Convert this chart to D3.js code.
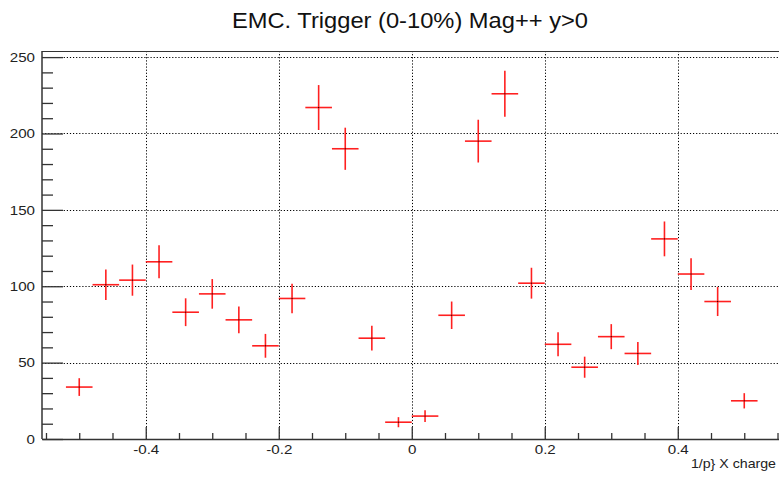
<!DOCTYPE html>
<html>
<head>
<meta charset="utf-8">
<script src="https://cdn.jsdelivr.net/npm/d3@7"></script>
<style>
  body { margin: 0; background: #fff; }
  svg { display: block; font-family: "Liberation Sans", Arial, sans-serif; }
</style>
</head>
<body>
<div id="chart"></div>
<script>
// bin centres (1/p x charge) and counts with their errors
var binCentres = [-0.50, -0.46, -0.42, -0.38, -0.34, -0.30, -0.26, -0.22, -0.18, -0.14, -0.10, -0.06, -0.02,
  0.02, 0.06, 0.10, 0.14, 0.18, 0.22, 0.26, 0.30, 0.34, 0.38, 0.42, 0.46, 0.50]
var counts = [34, 101, 104, 116, 83, 95, 78, 61, 92, 217, 190, 66, 11,
  15, 81, 195, 226, 102, 62, 47, 67, 56, 131, 108, 90, 25]
var countErrors = [5.8, 10.0, 10.2, 10.8, 9.1, 9.7, 8.8, 7.8, 9.6, 14.7, 13.8, 8.1, 3.3,
  3.9, 9.0, 14.0, 15.0, 10.1, 7.9, 6.9, 8.2, 7.5, 11.4, 10.4, 9.5, 5.0]
var binHalfWidth = 0.02

var xMajorTicks = [-0.4, -0.2, 0, 0.2, 0.4]
var xMinorTicks = [-0.55, -0.5, -0.45, -0.35, -0.3, -0.25, -0.15, -0.1, -0.05,
  0.05, 0.1, 0.15, 0.25, 0.3, 0.35, 0.45, 0.5, 0.55]
var yMajorTicks = [0, 50, 100, 150, 200, 250]
var yMinorTicks = [10, 20, 30, 40, 60, 70, 80, 90, 110, 120, 130, 140, 160, 170, 180, 190, 210, 220, 230, 240]

var chartTitle = 'EMC. Trigger (0-10%) Mag++ y>0'
var xTitle = '1/p} X charge'

var plot = { left: 42, top: 51, right: 781.5, bottom: 439 }

var svg = d3.select('#chart')
  .append('svg')
  .attr('width', 779)
  .attr('height', 479)

var x = d3.scaleLinear().domain([-0.556, 0.556]).range([plot.left, plot.right])
var y = d3.scaleLinear().domain([0, 254]).range([plot.bottom, plot.top])

// the reference text is a bit wider than Liberation Sans, stretch it
function stretch (sel, factor) {
  sel.each(function () {
    var w = this.getComputedTextLength()
    d3.select(this).attr('textLength', w * factor).attr('lengthAdjust', 'spacingAndGlyphs')
  })
}

// grid
var grid = svg.append('g').attr('class', 'grid')
  .attr('stroke', '#000')
  .attr('stroke-width', 1)
  .attr('stroke-dasharray', '1.2,1.9')
grid.selectAll('.gx')
  .data(xMajorTicks)
  .enter()
  .append('line')
  .attr('x1', function (d) { return Math.round(x(d)) + 0.5 })
  .attr('x2', function (d) { return Math.round(x(d)) + 0.5 })
  .attr('y1', plot.top)
  .attr('y2', plot.bottom)
grid.selectAll('.gy')
  .data(yMajorTicks.filter(function (d) { return d > 0 }))
  .enter()
  .append('line')
  .attr('y1', function (d) { return Math.round(y(d)) + 0.5 })
  .attr('y2', function (d) { return Math.round(y(d)) + 0.5 })
  .attr('x1', plot.left)
  .attr('x2', plot.right)

// frame top / right
svg.append('path')
  .attr('d', 'M' + plot.left + ',' + (plot.top + 0.5) + 'H' + plot.right + 'V' + plot.bottom)
  .attr('fill', 'none')
  .attr('stroke', '#333')
  .attr('stroke-width', 1.2)

// axes
function styleAxis (g) {
  g.select('.domain').attr('stroke', '#333').attr('stroke-width', 1.5)
  g.selectAll('.tick line').attr('stroke', '#333').attr('stroke-width', 1.3)
  g.selectAll('text').attr('fill', '#222').attr('font-size', 13.5).call(stretch, 1.12)
}

var xMinor = d3.axisBottom(x).tickValues(xMinorTicks).tickSizeInner(-6).tickSizeOuter(0).tickFormat('')
var xMajor = d3.axisBottom(x).tickValues(xMajorTicks).tickSizeInner(-12).tickSizeOuter(0).tickPadding(5)
  .tickFormat(function (d) { return String(d) })
svg.append('g').attr('transform', 'translate(0,' + plot.bottom + ')').call(xMinor).call(styleAxis)
svg.append('g').attr('transform', 'translate(0,' + plot.bottom + ')').call(xMajor).call(styleAxis)
  .call(function (g) { g.select('.domain').remove() })

var yMinor = d3.axisLeft(y).tickValues(yMinorTicks).tickSizeInner(-11).tickSizeOuter(0).tickFormat('')
var yMajor = d3.axisLeft(y).tickValues(yMajorTicks).tickSizeInner(-21).tickSizeOuter(0).tickPadding(7)
  .tickFormat(function (d) { return String(d) })
svg.append('g').attr('transform', 'translate(' + plot.left + ',0)').call(yMinor).call(styleAxis)
  .call(function (g) { g.select('.domain').attr('d', 'M0,' + plot.bottom + 'V' + plot.top) })
svg.append('g').attr('transform', 'translate(' + plot.left + ',0)').call(yMajor).call(styleAxis)
  .call(function (g) { g.select('.domain').remove() })

// data: error crosses
var points = binCentres.map(function (c, i) {
  return { c: c, v: counts[i], e: countErrors[i] }
})
var marks = svg.append('g').attr('class', 'points')
marks.selectAll('.hbar')
  .data(points)
  .enter()
  .append('line')
  .attr('x1', function (d) { return x(d.c - binHalfWidth) })
  .attr('x2', function (d) { return x(d.c + binHalfWidth) })
  .attr('y1', function (d) { return y(d.v) })
  .attr('y2', function (d) { return y(d.v) })
  .attr('stroke', '#ff2020')
  .attr('stroke-width', 1.6)
marks.selectAll('.vbar')
  .data(points)
  .enter()
  .append('line')
  .attr('x1', function (d) { return x(d.c) })
  .attr('x2', function (d) { return x(d.c) })
  .attr('y1', function (d) { return y(d.v - d.e) })
  .attr('y2', function (d) { return y(d.v + d.e) })
  .attr('stroke', '#ff2020')
  .attr('stroke-width', 1.6)
marks.selectAll('.dot')
  .data(points)
  .enter()
  .append('rect')
  .attr('x', function (d) { return x(d.c) - 0.5 })
  .attr('y', function (d) { return y(d.v) - 0.5 })
  .attr('width', 1)
  .attr('height', 1)
  .attr('fill', '#000')

// titles
svg.append('text')
  .attr('x', 410)
  .attr('y', 28)
  .attr('text-anchor', 'middle')
  .attr('font-size', 22.5)
  .attr('fill', '#111')
  .text(chartTitle)
  .attr('textLength', 356)
  .attr('lengthAdjust', 'spacingAndGlyphs')

svg.append('text')
  .attr('x', 776)
  .attr('y', 468)
  .attr('text-anchor', 'end')
  .attr('font-size', 13)
  .attr('fill', '#222')
  .text(xTitle)
  .call(stretch, 1.09)
</script>
</body>
</html>
